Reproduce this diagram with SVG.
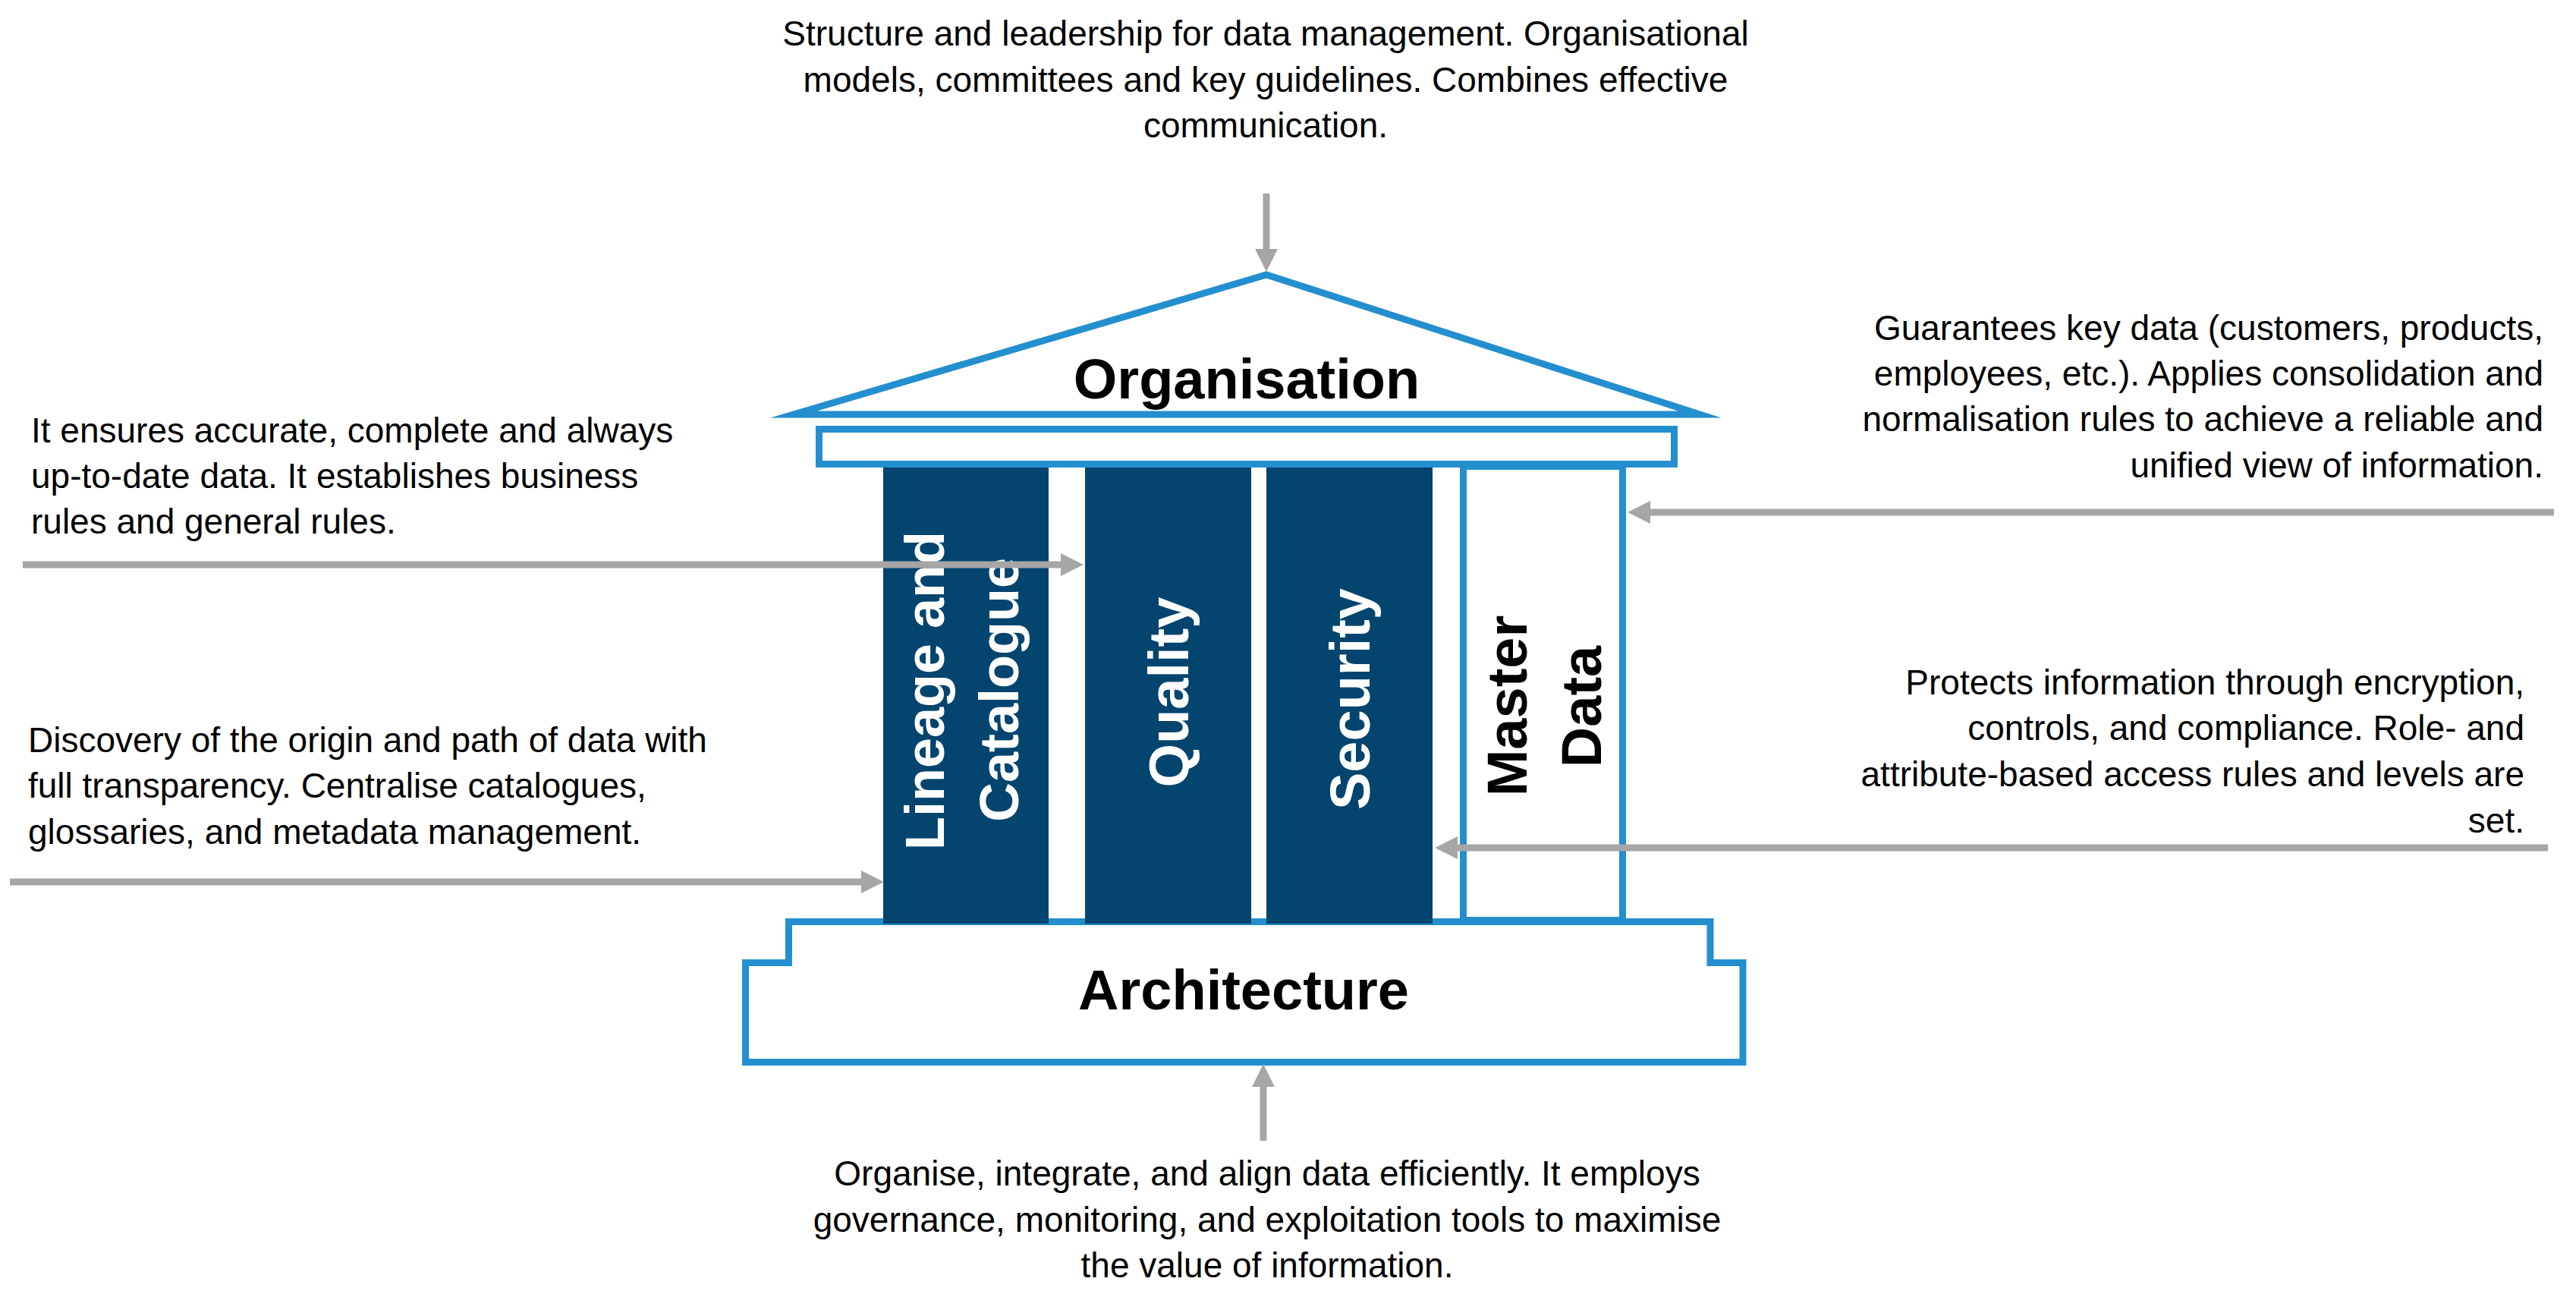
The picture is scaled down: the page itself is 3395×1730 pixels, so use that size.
<svg xmlns="http://www.w3.org/2000/svg" width="3395" height="1730" viewBox="0 0 3395 1730">
<defs>
<style>
.body{font-family:"Liberation Sans",Arial,sans-serif;font-size:46px;fill:#000}
.title{font-family:"Liberation Sans",Arial,sans-serif;font-size:74px;font-weight:bold;fill:#000;text-anchor:middle}
.pt{font-family:"Liberation Sans",Arial,sans-serif;font-weight:bold;text-anchor:middle}
.blue{fill:#fff;stroke:#248FCF;stroke-width:9;stroke-miterlimit:12}
.pillar{fill:#03456F}
.conn{stroke:#A6A6A6;stroke-width:9;fill:none}
</style>
<marker id="ah" markerUnits="userSpaceOnUse" markerWidth="32" markerHeight="32" viewBox="0 0 32 32" refX="1" refY="16" orient="auto">
<path d="M0,1 L30,16 L0,31 z" fill="#A6A6A6"/>
</marker>
</defs>
<rect width="3395" height="1730" fill="#fff"/>

<g id="organisation">
<polygon class="blue" points="1046,546 1669,362 2240,546"/>
<text class="title" x="1643" y="525">Organisation</text>
</g>
<g id="beam">
<rect class="blue" x="1079.5" y="565.5" width="1127" height="46"/>
</g>
<g id="architecture">
<polygon class="blue" points="1039.5,1214.5 2254,1214.5 2254,1268.5 2297,1268.5 2297,1399.5 982.5,1399.5 982.5,1268.5 1039.5,1268.5"/>
<text class="title" x="1639" y="1330">Architecture</text>
</g>
<g id="master-data">
<rect class="blue" x="1928.5" y="614.5" width="210" height="598"/>
<text class="pt" font-size="74" fill="#000" transform="translate(2012,930) rotate(-90)">Master</text>
<text class="pt" font-size="74" fill="#000" transform="translate(2110,931) rotate(-90)">Data</text>
</g>
<g id="lineage-catalogue">
<rect class="pillar" x="1164" y="616" width="218" height="601"/>
<text class="pt" font-size="72" fill="#fff" transform="translate(1244,910) rotate(-90)">Lineage and</text>
<text class="pt" font-size="72" fill="#fff" transform="translate(1342,909) rotate(-90)">Catalogue</text>
</g>
<g id="quality">
<rect class="pillar" x="1430" y="616" width="219" height="601"/>
<text class="pt" font-size="74" fill="#fff" transform="translate(1566,912) rotate(-90)">Quality</text>
</g>
<g id="security">
<rect class="pillar" x="1669" y="616" width="219" height="601"/>
<text class="pt" font-size="74" fill="#fff" transform="translate(1805,921) rotate(-90)">Security</text>
</g>

<g id="text-organisation" class="body" text-anchor="middle">
<text x="1668" y="60">Structure and leadership for data management. Organisational</text>
<text x="1668" y="121">models, committees and key guidelines. Combines effective</text>
<text x="1668" y="181">communication.</text>
</g>
<g id="text-quality" class="body">
<text x="41" y="583">It ensures accurate, complete and always</text>
<text x="41" y="643">up-to-date data. It establishes business</text>
<text x="41" y="703">rules and general rules.</text>
</g>
<g id="text-lineage" class="body">
<text x="37" y="991">Discovery of the origin and path of data with</text>
<text x="37" y="1051">full transparency. Centralise catalogues,</text>
<text x="37" y="1112">glossaries, and metadata management.</text>
</g>
<g id="text-master" class="body" text-anchor="end">
<text x="3352" y="448">Guarantees key data (customers, products,</text>
<text x="3352" y="508">employees, etc.). Applies consolidation and</text>
<text x="3352" y="568">normalisation rules to achieve a reliable and</text>
<text x="3352" y="629">unified view of information.</text>
</g>
<g id="text-security" class="body" text-anchor="end">
<text x="3327" y="915">Protects information through encryption,</text>
<text x="3327" y="975">controls, and compliance. Role- and</text>
<text x="3327" y="1036">attribute-based access rules and levels are</text>
<text x="3327" y="1097">set.</text>
</g>
<g id="text-architecture" class="body" text-anchor="middle">
<text x="1670" y="1562">Organise, integrate, and align data efficiently. It employs</text>
<text x="1670" y="1623">governance, monitoring, and exploitation tools to maximise</text>
<text x="1670" y="1683">the value of information.</text>
</g>

<g id="connectors">
<line class="conn" x1="1669" y1="255" x2="1669" y2="329" marker-end="url(#ah)"/>
<line class="conn" x1="1665" y1="1503" x2="1665" y2="1431" marker-end="url(#ah)"/>
<line class="conn" x1="30" y1="744" x2="1399" y2="744" marker-end="url(#ah)"/>
<line class="conn" x1="13" y1="1162" x2="1136" y2="1162" marker-end="url(#ah)"/>
<line class="conn" x1="3366" y1="675" x2="2174" y2="675" marker-end="url(#ah)"/>
<line class="conn" x1="3358" y1="1117" x2="1920" y2="1117" marker-end="url(#ah)"/>
</g>
</svg>
